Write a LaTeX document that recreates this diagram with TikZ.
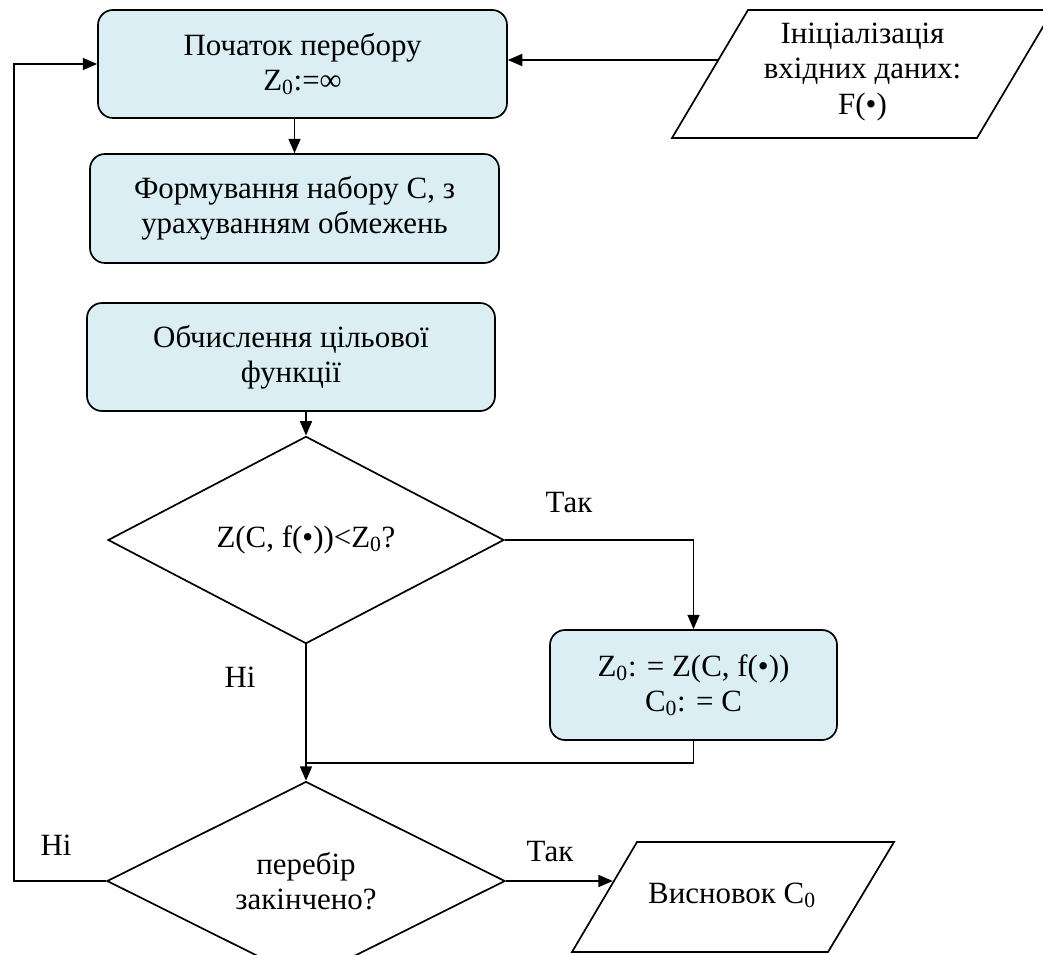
\documentclass[tikz,border=0pt]{standalone}
\usepackage{fontspec}
\setmainfont{Liberation Serif}
\usetikzlibrary{shapes.geometric,arrows.meta}
\definecolor{boxblue}{HTML}{DAEEF3}

\begin{document}
\begin{tikzpicture}[
    font=\fontsize{22}{25}\selectfont,
    line width=1.2pt,
    >={Triangle[length=0.36cm,width=0.3cm]},
    boite/.style={draw,fill=boxblue,rounded corners=0.375cm,align=center,inner sep=0},
    losange/.style={draw,diamond,align=center,inner sep=0},
    texte/.style={align=center,inner sep=0}
]
    \useasboundingbox (0,0) rectangle (26.075,-23.85);

    \node[boite,minimum width=10.225cm,minimum height=2.7cm] (debut) at (7.5625,-1.6) {Початок перебору\\Z\textsubscript{0}:=∞}; %debut

    \node[texte] (init) at (21.5625,-1.8) {Ініціалізація\\вхідних даних:\\F(•)}; %donnees
    \draw (18.7,-0.25) -- (26.325,-0.25) -- (24.425,-3.45) -- (16.8,-3.45) -- cycle; %parallelogramme
    \coordinate (initgauche) at (17.96,-1.5);

    \node[boite,minimum width=10.225cm,minimum height=2.725cm] (form) at (7.3625,-5.2125) {Формування набору C, з\\урахуванням обмежень}; %formation
    \node[boite,minimum width=10.2cm,minimum height=2.7cm] (calc) at (7.275,-8.925) {Обчислення цільової\\функції}; %calcul

    \node[losange,minimum width=9.9cm,minimum height=3.575cm] (cmp) at (7.65,-13.5) {Z(C, f(•))<Z\textsubscript{0}?}; %test 1
    \node[boite,minimum width=7.175cm,minimum height=2.75cm] (maj) at (17.3375,-17.125) {Z\textsubscript{0}: = Z(C, f(•))\\C\textsubscript{0}: = C}; %mise a jour

    \node[losange,minimum width=9.95cm,minimum height=3.6cm] (fin) at (7.65,-22.025) {перебір\\закінчено?}; %test 2

    \node[texte] (concl) at (18.3,-22.38) {Висновок C\textsubscript{0}}; %sortie
    \draw (15.925,-21.05) -- (22.35,-21.05) -- (20.7,-23.8) -- (14.3,-23.8) -- cycle; %parallelogramme
    \coordinate (conclgauche) at (15.32,-22.025);

    \coordinate (retour) at (0.35,-22.025); %coin gauche
    \coordinate (jonction) at (7.65,-19.075); %fusion

    \draw[->] (initgauche) -- (initgauche -| debut.east);
    \draw[->] (debut.south -| form.north) -- (form.north);
    \draw[->] (calc.south -| cmp.north) -- (cmp.north);
    \draw[->] (cmp.east) -| (maj.north);
    \draw (maj.south) |- (jonction);
    \draw[->] (cmp.south) -- (fin.north);
    \draw[->] (fin.east) -- (conclgauche);
    \draw[->] (fin.west) -- (retour) |- (debut.west);

    \node (oui1) at (14.225,-12.575) {Так};
    \node (non1) at (6.0,-16.925) {Ні};
    \node (non2) at (1.4,-21.125) {Ні};
    \node (oui2) at (13.75,-21.3) {Так};
\end{tikzpicture}
\end{document}
